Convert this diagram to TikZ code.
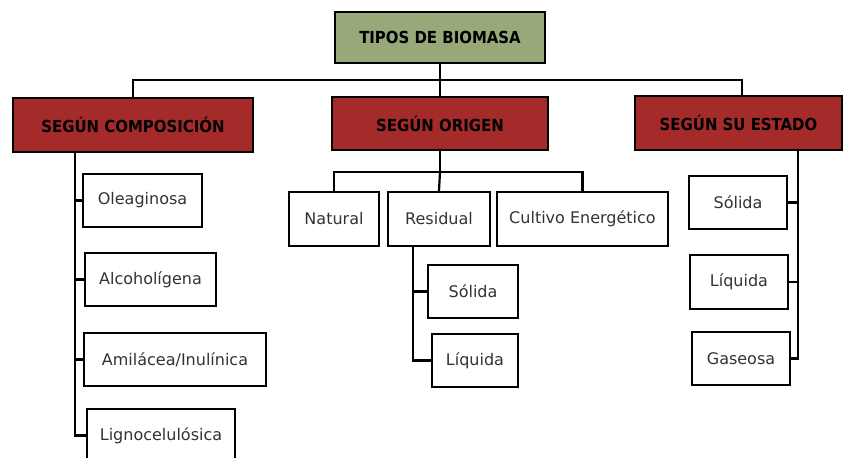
\documentclass[tikz,border=0pt]{standalone}
\usepackage{fontspec}
\setmainfont{DejaVu Sans}
\newfontfamily\headfont{DejaVu Sans Condensed}
\usetikzlibrary{positioning}
\definecolor{tipogreen}{RGB}{151,168,121}
\definecolor{grupored}{RGB}{165,42,42}
\tikzset{box/.style={rectangle,draw=black,line width=2.6pt,fill=white,minimum height=53pt,inner sep=0pt,font=\fontsize{16}{18}\selectfont,text=black!80},
         head box/.style={box,fill=grupored,font=\headfont\bfseries\fontsize{16.6}{18}\selectfont,text=black},
         root box/.style={head box,fill=tipogreen},
         link/.style={line width=2.2pt,line cap=rect}
}

\begin{document}
\begin{tikzpicture}[x=1pt,y=-1pt]
% \draw[help lines] (0,0) grid (844,458);
\useasboundingbox (0,0) rectangle (844,458);
% raiz y grupos
\node[root box,minimum width=210pt,minimum height=51pt] (tipos) at (440,37.5) {TIPOS DE BIOMASA};
\node[head box,minimum width=240pt,minimum height=54pt] (comp) at (133,125) {SEGÚN COMPOSICIÓN};
\node[head box,minimum width=216pt] (orig) at (440,123.5) {SEGÚN ORIGEN};
\node[head box,minimum width=207pt,minimum height=54pt] (estado) at (738.5,123) {SEGÚN SU ESTADO};
% composicion
\node[box,minimum width=119pt] (ole) at (142.5,200.5) {Oleaginosa};
\node[box,minimum width=131pt] (alco) at (150.5,279.5) {Alcoholígena};
\node[box,minimum width=182pt] (amil) at (175,359.5) {Amilácea/Inulínica};
\node[box,minimum width=148pt] (ligno) at (161,435.5) {Lignocelulósica};
% origen
\node[box,minimum width=90pt,minimum height=54pt] (natural) at (334,219) {Natural};
\node[box,minimum width=102pt,minimum height=54pt] (residual) at (439,219) {Residual};
\node[box,minimum width=171pt,minimum height=54pt] (cultivo) at (582.5,219) {Cultivo Energético};
\node[box,minimum width=90pt] (solidaR) at (473,291.5) {Sólida};
\node[box,minimum width=86pt] (liquidaR) at (475,360.5) {Líquida};
% estado
\node[box,minimum width=98pt] (solidaE) at (738,202.5) {Sólida};
\node[box,minimum width=98pt,minimum height=54pt] (liquidaE) at (739,282) {Líquida};
\node[box,minimum width=98pt] (gaseosa) at (741,358.5) {Gaseosa};

\coordinate (bus) at (440,80);
\coordinate (obus) at (440,172);
\coordinate (lbus) at (75,152);
\coordinate (rbus) at (413,246);
\coordinate (ebus) at (798,150);

\draw[link] (tipos.south) -- (bus);
\draw[link] (comp.north) |- (bus) -| (estado.north -| 742,0);
\draw[link] (bus) -- (orig.north);
\draw[link] (lbus) |- (ligno.west);
\foreach \n in {ole,alco,amil}
    \draw[link] (lbus |- \n.west) -- (\n.west);
\draw[link] (orig.south) -- (obus);
\draw[link] (natural.north) |- (obus) -| (cultivo.north);
\draw[link] (obus) -- (residual.north);
\draw[link] (rbus) |- (liquidaR.west);
\draw[link] (rbus |- solidaR.west) -- (solidaR.west);
\draw[link] (ebus) |- (gaseosa.east);
\foreach \n in {solidaE,liquidaE}
    \draw[link] (ebus |- \n.east) -- (\n.east);
\end{tikzpicture}
\end{document}
